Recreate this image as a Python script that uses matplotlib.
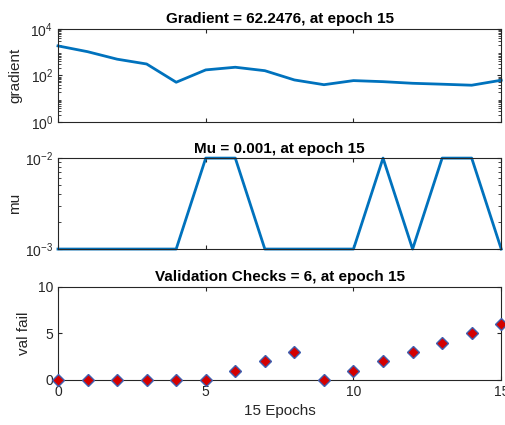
import numpy as np
import matplotlib
matplotlib.use('Agg')
import matplotlib.pyplot as plt
from matplotlib.ticker import LogLocator, NullFormatter

plt.rcParams['font.family'] = ['Liberation Sans', 'DejaVu Sans']

# training record
epochs = list(range(16))
gradient = [1860, 1050, 500, 310, 51, 173, 225, 160, 64, 40, 60, 54, 46, 42, 38, 62.2476]
mu = [0.001, 0.001, 0.001, 0.001, 0.001, 0.01, 0.01, 0.001, 0.001, 0.001,
      0.001, 0.01, 0.001, 0.01, 0.01, 0.001]
val_fail = [0, 0, 0, 0, 0, 0, 1, 2, 3, 0, 1, 2, 3, 4, 5, 6]

blue = '#0072BD'
axcol = '#262626'

fig = plt.figure(figsize=(5.06, 4.25), dpi=100)
ax1 = fig.add_axes([0.1146, 0.713, 0.876, 0.219])
ax2 = fig.add_axes([0.1146, 0.414, 0.876, 0.214])
ax3 = fig.add_axes([0.1146, 0.106, 0.876, 0.219])

def style(ax):
    ax.set_xlim(0, 15)
    ax.set_xticks([0, 5, 10, 15])
    ax.tick_params(direction='in', top=True, right=True, labelsize=10,
                   colors=axcol, length=3)
    ax.tick_params(which='minor', direction='in', right=True, length=2, colors=axcol)
    for s in ax.spines.values():
        s.set_color(axcol)
        s.set_linewidth(0.8)

ax1.semilogy(epochs, gradient, color=blue, lw=2, clip_on=False)
ax1.set_ylim(1, 1e4)
ax1.set_yticks([1, 1e2, 1e4])
ax1.yaxis.set_minor_locator(LogLocator(base=10, subs=np.arange(2, 10), numticks=20))
ax1.yaxis.set_minor_formatter(NullFormatter())
style(ax1)
ax1.set_xticklabels([])
ax1.set_ylabel('gradient', fontsize=11, color=axcol)
ax1.yaxis.set_label_coords(-0.08, 0.5)
ax1.set_title('Gradient = 62.2476, at epoch 15', fontsize=11, fontweight='bold', pad=4)

ax2.semilogy(epochs, mu, color=blue, lw=2, clip_on=False)
ax2.set_ylim(1e-3, 1e-2)
ax2.set_yticks([1e-3, 1e-2])
ax2.yaxis.set_minor_locator(LogLocator(base=10, subs=np.arange(2, 10), numticks=20))
ax2.yaxis.set_minor_formatter(NullFormatter())
style(ax2)
ax2.set_xticklabels([])
ax2.set_ylabel('mu', fontsize=11, color=axcol)
ax2.yaxis.set_label_coords(-0.08, 0.5)
ax2.set_title('Mu = 0.001, at epoch 15', fontsize=11, fontweight='bold', pad=4)

ax3.plot(epochs, val_fail, linestyle='none', marker='D', markersize=6,
         markerfacecolor='#D40000', markeredgecolor='#4060B0', markeredgewidth=1,
         clip_on=False, zorder=5)
ax3.set_ylim(0, 10)
ax3.set_yticks([0, 5, 10])
style(ax3)
ax3.set_xlabel('15 Epochs', fontsize=11, color=axcol)
ax3.set_ylabel('val fail', fontsize=11, color=axcol)
ax3.yaxis.set_label_coords(-0.061, 0.5)
ax3.set_title('Validation Checks = 6, at epoch 15', fontsize=11, fontweight='bold', pad=4)

fig.savefig('out.png', dpi=100)
